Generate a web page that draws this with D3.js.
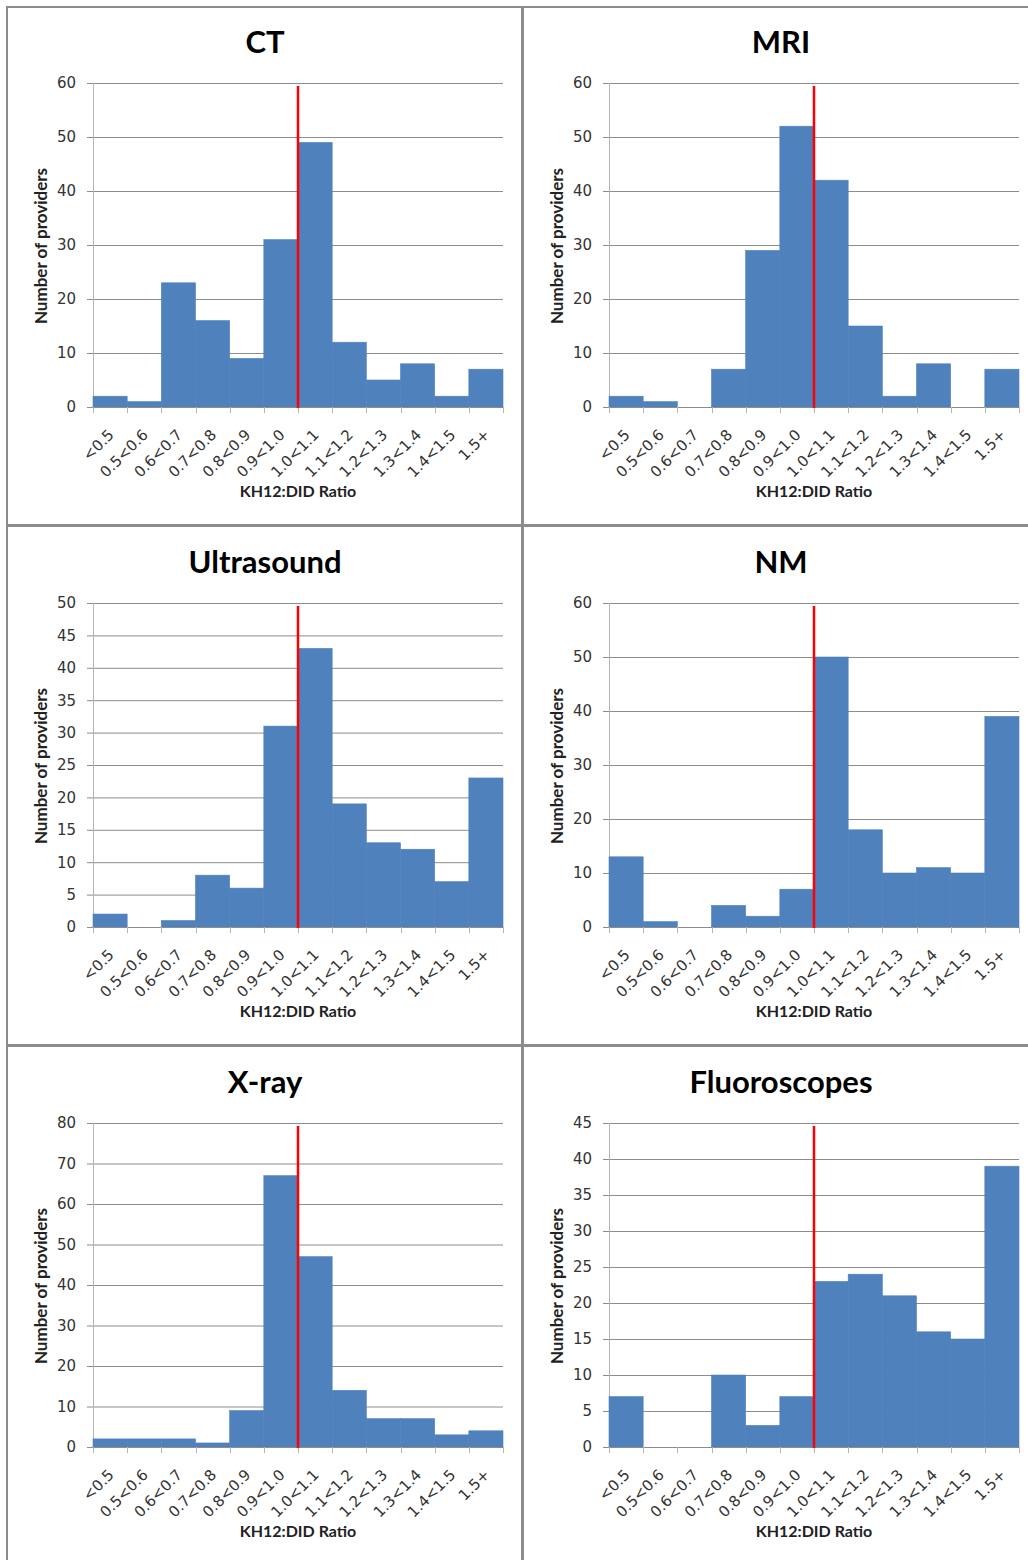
<!DOCTYPE html>
<html>
<head>
<meta charset="utf-8">
<script src="https://cdn.jsdelivr.net/npm/d3@7/dist/d3.min.js"></script>
<style>
  body { margin: 0; background: #fff; }
  .tick-y { font-family: "DejaVu Sans", sans-serif; font-size: 15px; fill: #333; }
  .tick-x { font-family: "DejaVu Sans", sans-serif; font-size: 15px; fill: #333; }
  .axis-title { font-family: Lato, sans-serif; font-weight: bold; font-size: 16px; fill: #222; }
  .y-title { font-size: 17px; }
  .panel-title { font-family: Lato, sans-serif; font-weight: bold; font-size: 31px; fill: #000; }
</style>
</head>
<body>
<div id="chart"></div>
<script>
// ratio bins along the x axis
var categories = ["<0.5", "0.5<0.6", "0.6<0.7", "0.7<0.8", "0.8<0.9", "0.9<1.0",
                  "1.0<1.1", "1.1<1.2", "1.2<1.3", "1.3<1.4", "1.4<1.5", "1.5+"];

// number of providers per bin
var ctCounts     = [2, 1, 23, 16, 9, 31, 49, 12, 5, 8, 2, 7];
var mriCounts    = [2, 1, 0, 7, 29, 52, 42, 15, 2, 8, 0, 7];
var usCounts     = [2, 0, 1, 8, 6, 31, 43, 19, 13, 12, 7, 23];
var nmCounts     = [13, 1, 0, 4, 2, 7, 50, 18, 10, 11, 10, 39];
var xrayCounts   = [2, 2, 2, 1, 9, 67, 47, 14, 7, 7, 3, 4];
var fluoroCounts = [7, 0, 0, 10, 3, 7, 23, 24, 21, 16, 15, 39];

// y tick labels
var ticks60 = [0, 10, 20, 30, 40, 50, 60];
var ticks50 = [0, 5, 10, 15, 20, 25, 30, 35, 40, 45, 50];
var ticks80 = [0, 10, 20, 30, 40, 50, 60, 70, 80];
var ticks45 = [0, 5, 10, 15, 20, 25, 30, 35, 40, 45];

var titles = ["CT", "MRI", "Ultrasound", "NM", "X-ray", "Fluoroscopes"];
var refBin = "1.0<1.1";   // red reference line at ratio 1.0
var xTitle = "KH12:DID Ratio";
var yTitle = "Number of providers";

var panels = [
  {title: titles[0], values: ctCounts, ticks: ticks60},
  {title: titles[1], values: mriCounts, ticks: ticks60},
  {title: titles[2], values: usCounts, ticks: ticks50},
  {title: titles[3], values: nmCounts, ticks: ticks60},
  {title: titles[4], values: xrayCounts, ticks: ticks80},
  {title: titles[5], values: fluoroCounts, ticks: ticks45}
];

var svg = d3.select("#chart").append("svg")
    .attr("width", 1028)
    .attr("height", 1560);

var plotW = 410, plotH = 324;

panels.forEach(function(p, i) {
    var ox = (i % 2) * 516,
        oy = Math.floor(i / 2) * 520;

    var panel = svg.append("g").attr("transform", "translate(" + ox + "," + oy + ")");

    var x = d3.scaleBand().domain(categories).range([0, plotW]).padding(0),
        y = d3.scaleLinear().domain([0, d3.max(p.ticks)]).range([plotH, 0]);

    var g = panel.append("g").attr("transform", "translate(93,83)");

    // gridlines + outside tick marks
    g.append("g")
        .call(d3.axisLeft(y).tickValues(p.ticks).tickFormat(""))
        .call(function(a) {
            a.select(".domain").remove();
            a.selectAll(".tick line").attr("x1", -6).attr("x2", plotW).attr("stroke", "#8c8c8c");
        });

    // y axis line + labels
    var yAxis = g.append("g")
        .call(d3.axisLeft(y).tickValues(p.ticks).tickSize(0).tickPadding(17));
    yAxis.select(".domain").attr("stroke", "#b5b5b5").attr("d", "M0.5," + plotH + "V0");
    yAxis.selectAll(".tick text").attr("class", "tick-y").attr("font-family", null).attr("font-size", null);

    // bars
    g.selectAll(".bar")
        .data(p.values)
      .enter().append("rect")
        .attr("class", "bar")
        .attr("x", function(d, k) { return x(categories[k]); })
        .attr("y", function(d) { return y(d); })
        .attr("width", x.bandwidth())
        .attr("height", function(d) { return plotH - y(d); })
        .attr("fill", "#4f81bd")
        .attr("stroke", "#4f81bd")
        .attr("stroke-width", 0.6);

    // x axis: ticks at bin edges
    var edges = categories.map(function(c) { return x(c); }).concat([plotW]);
    var xa = g.append("g").attr("transform", "translate(0," + plotH + ")");
    xa.append("line")
        .attr("x1", 0).attr("x2", plotW)
        .attr("y1", 0.5).attr("y2", 0.5)
        .attr("stroke", "#8c8c8c");
    xa.selectAll(".xtick")
        .data(edges)
      .enter().append("line")
        .attr("x1", function(d) { return Math.round(d) + 0.5; })
        .attr("x2", function(d) { return Math.round(d) + 0.5; })
        .attr("y1", 0).attr("y2", 6)
        .attr("stroke", "#b5b5b5");
    xa.selectAll(".tick-x")
        .data(categories)
      .enter().append("text")
        .attr("class", "tick-x")
        .attr("text-anchor", "end")
        .attr("dy", "0.35em")
        .attr("transform", function(d) {
            return "translate(" + (x(d) + x.bandwidth() / 2 + 1) + ",25) rotate(-45)";
        })
        .text(function(d) { return d; });

    // reference line at ratio 1.0
    g.append("line")
        .attr("x1", x(refBin)).attr("x2", x(refBin))
        .attr("y1", y(d3.max(p.ticks)) + 3).attr("y2", plotH + 1)
        .attr("stroke", "#ff0000")
        .attr("stroke-width", 2.5);

    // titles
    panel.append("text")
        .attr("class", "panel-title")
        .attr("x", 265).attr("y", 53)
        .attr("text-anchor", "middle")
        .text(p.title);

    panel.append("text")
        .attr("class", "axis-title y-title")
        .attr("transform", "translate(47,246) rotate(-90)")
        .attr("text-anchor", "middle")
        .text(yTitle);

    panel.append("text")
        .attr("class", "axis-title")
        .attr("x", 298).attr("y", 497)
        .attr("text-anchor", "middle")
        .text(xTitle);
});

// panel frame
var frame = svg.append("g").attr("stroke", "#8c8c8c");
frame.append("line").attr("x1", 6).attr("x2", 1028).attr("y1", 7).attr("y2", 7).attr("stroke-width", 2);
frame.append("line").attr("x1", 7).attr("x2", 7).attr("y1", 6).attr("y2", 1560).attr("stroke-width", 2);
frame.append("line").attr("x1", 522.5).attr("x2", 522.5).attr("y1", 6).attr("y2", 1560).attr("stroke-width", 3);
frame.append("line").attr("x1", 6).attr("x2", 1028).attr("y1", 525.5).attr("y2", 525.5).attr("stroke-width", 3);
frame.append("line").attr("x1", 6).attr("x2", 1028).attr("y1", 1045.5).attr("y2", 1045.5).attr("stroke-width", 3);
</script>
</body>
</html>
